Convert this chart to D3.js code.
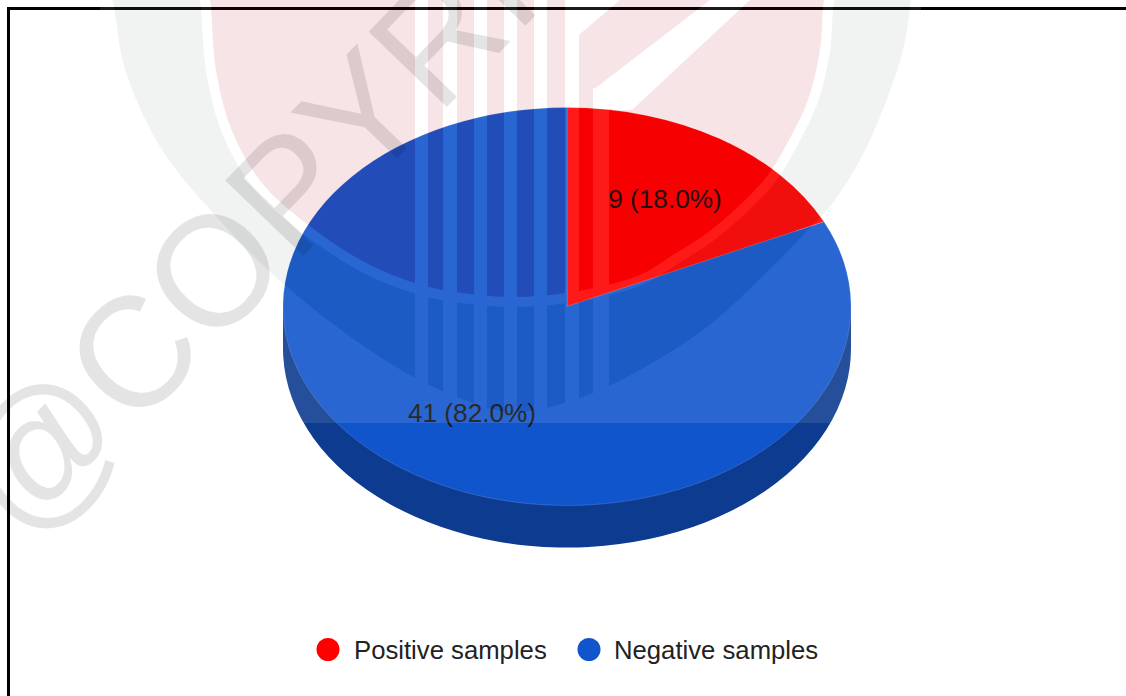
<!DOCTYPE html>
<html>
<head>
<meta charset="utf-8">
<script src="https://cdn.jsdelivr.net/npm/d3@7/dist/d3.min.js"></script>
<style>
html,body{margin:0;padding:0;background:#fff;overflow:hidden}
svg{display:block}
text{font-family:"Liberation Sans",Arial,sans-serif}
</style>
</head>
<body>
<svg id="c" width="1126" height="696"></svg>
<script>
// chart data
const categories = ["Positive samples", "Negative samples"];
const values = [9, 41];
const colors = ["#ff0000", "#1155cc"];
const wallColors = ["#b20000", "#0c3b8f"];
const labels = ["9 (18.0%)", "41 (82.0%)"];

const svg = d3.select("#c");
const W = 1126, H = 696;
const cx = 567, cy = 306.5, rx = 284, ry = 199, depth = 42;

// frame
svg.append("rect").attr("x", 8.5).attr("y", 8.5).attr("width", W + 20).attr("height", H + 20)
  .attr("fill", "#fff").attr("stroke", "#000").attr("stroke-width", 3);

// pie
const pie = d3.pie().sort(null).value(d => d)(values);
const arc = d3.arc().innerRadius(0).outerRadius(rx);
const scaleY = ry / rx;
const g = svg.append("g");

// side wall: the slice outline pushed down, plus the band joining it to the top face
const wall = g.append("g");
wall.selectAll("path").data(pie).join("path")
  .attr("transform", `translate(${cx},${cy + depth}) scale(1,${scaleY})`)
  .attr("d", arc).attr("fill", (d, i) => wallColors[i]);
wall.append("rect").attr("x", cx - rx).attr("width", 2 * rx).attr("y", cy).attr("height", depth)
  .attr("fill", wallColors[1]);

// top face
g.append("g").selectAll("path").data(pie).join("path")
  .attr("transform", `translate(${cx},${cy}) scale(1,${scaleY})`)
  .attr("d", arc).attr("fill", (d, i) => colors[i])
  .attr("stroke", "rgba(255,255,255,0.28)").attr("stroke-width", 0.6);

// slice labels
const labelPos = [[665, 208], [472, 422]];
svg.append("g").selectAll("text").data(labels).join("text")
  .attr("x", (d, i) => labelPos[i][0]).attr("y", (d, i) => labelPos[i][1])
  .attr("text-anchor", "middle").attr("font-size", 26.2).attr("fill", "#111").text(d => d);

// legend
const legendX = [328, 589], legendTextX = [354, 614];
const legend = svg.append("g").selectAll("g").data(categories).join("g");
legend.append("circle").attr("cx", (d, i) => legendX[i]).attr("cy", 649.5).attr("r", 11.5)
  .attr("fill", (d, i) => colors[i]);
legend.append("text").attr("x", (d, i) => legendTextX[i]).attr("y", 659)
  .attr("font-size", 25.7).attr("fill", "#222").text(d => d);

// watermark image laid over the whole chart at 10%
const line = d3.line().curve(d3.curveCatmullRom.alpha(0.5));
const ringEdge = [[112,0],[114,7],[125,69],[161,148],[214,214],[286,286],[380,357],[447,393],[513,412],[580,398],[640,370],[707,327],[757,282],[810,228],[835,200],[870,140],[903,50],[911,0]];
const discEdge = [[210,0],[211,7],[216,70],[232,131],[262,183],[307,224],[370,265],[429,287],[480,295],[520,297],[579,291],[640,275],[673,255],[707,233],[740,205],[768,175],[790,138],[808,100],[820,50],[823,8],[824,0]];
const stripes = [[415,428,0],[443,457,0],[474,487,0],[504,517,0],[534,547,0],[565,579,0],[593,609,88]];
const wm = svg.append("g").attr("opacity", 0.1);
wm.append("rect").attr("x", 100).attr("y", 0).attr("width", 821).attr("height", 423).attr("fill", "#fff");
const wmClip = svg.append("clipPath").attr("id", "wmc");
wmClip.append("rect").attr("x", 100).attr("y", 0).attr("width", 821).attr("height", 423);
const wmIn = wm.append("g").attr("clip-path", "url(#wmc)");
wmIn.append("path").attr("d", line(ringEdge) + "Z").attr("fill", "#7d9187");
wmIn.append("path").attr("d", line(discEdge) + "Z").attr("fill", "#b90014")
  .attr("stroke", "#fff").attr("stroke-width", 20).attr("stroke-linejoin", "round").attr("paint-order", "stroke");
wmIn.selectAll("rect.s").data(stripes).join("rect").attr("class", "s")
  .attr("x", d => d[0]).attr("width", d => d[1] - d[0]).attr("y", d => d[2]).attr("height", d => 423 - d[2]).attr("fill", "#fff");
wmIn.append("path").attr("d", "M579,0L620,0L579,35Z").attr("fill", "#fff");
wmIn.append("path").attr("d", "M593,90L710,0L750,0L632,110L593,110Z").attr("fill", "#fff");

// watermark text
svg.append("text").attr("transform", "translate(24,545) rotate(-46) scale(0.98,1)")
  .attr("font-size", 158).attr("fill", "#000").attr("fill-opacity", 0.105).text("@COPYRIGHT");
</script>
</body>
</html>
